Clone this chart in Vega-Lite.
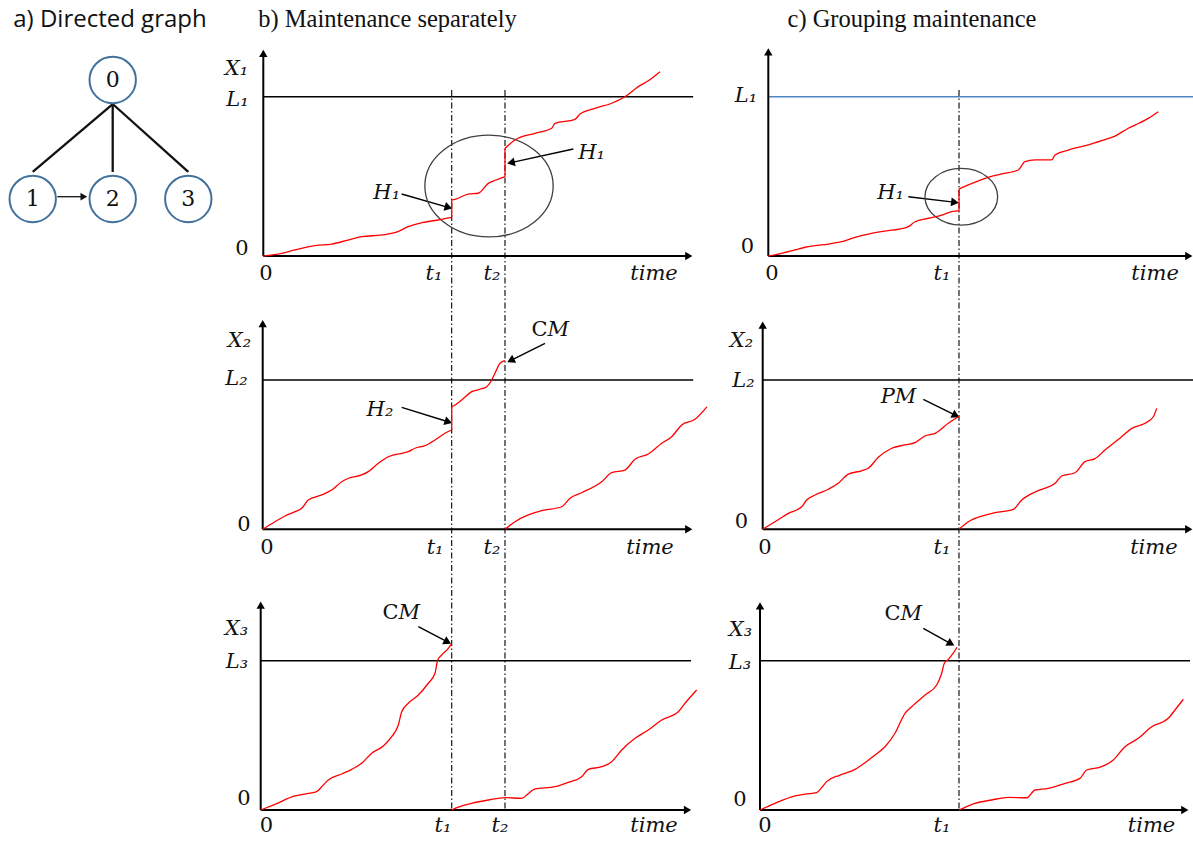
{
"$schema": "https://vega.github.io/schema/vega-lite/v6.json",
"padding": 0,
"background": "white",
"config": {"view": {"stroke": null}},
"spacing": 0,
"bounds": "flush",
"align": "each",
"columns": 3,
"concat": [
{
 "width": 215, "height": 290,
 "encoding": {
  "x": {"field": "x", "type": "quantitative", "axis": null, "scale": {"domain": [-1.409, 1.279], "nice": false, "zero": false}},
  "y": {"field": "y", "type": "quantitative", "axis": null, "scale": {"domain": [-0.765, 1.672], "nice": false, "zero": false}}
 },
 "layer": [
  {"data": {"values": [{"x": 0, "y": 0.798, "x2": -1, "y2": 0.227}, {"x": 0, "y": 0.798, "x2": 0, "y2": 0.227}, {"x": 0, "y": 0.798, "x2": 0.945, "y2": 0.227}]},
   "mark": {"type": "rule", "color": "#111", "strokeWidth": 2.3},
   "encoding": {"x2": {"field": "x2"}, "y2": {"field": "y2"}}},
  {"data": {"values": [{"x": -0.6925, "y": 0.019, "x2": -0.361, "y2": 0.019}]},
   "mark": {"type": "rule", "color": "#111", "strokeWidth": 1.3},
   "encoding": {"x2": {"field": "x2"}, "y2": {"field": "y2"}}},
  {"data": {"values": [{"x": -0.361, "y": 0.019}]},
   "mark": {"type": "point", "shape": "triangle-right", "size": 60, "filled": true, "color": "#111", "opacity": 1}},
  {"data": {"values": [{"x": 0, "y": 1, "n": "0"}, {"x": -1, "y": 0, "n": "1"}, {"x": 0, "y": 0, "n": "2"}, {"x": 0.945, "y": 0, "n": "3"}]},
   "layer": [
    {"mark": {"type": "point", "shape": "circle", "size": 2150, "filled": true, "fill": "#ffffff", "stroke": "#41719c", "strokeWidth": 2, "opacity": 1}},
    {"mark": {"type": "text", "font": "DejaVu Serif", "fontSize": 22, "align": "center", "baseline": "middle", "color": "#111"}, "encoding": {"text": {"field": "n", "type": "nominal"}}}
   ]},
  {"data": {"values": [{"x": -0.034, "y": 1.448, "s": "a) Directed graph"}]},
   "mark": {"type": "text", "font": "Open Sans", "fontSize": 24, "align": "center", "baseline": "alphabetic", "color": "#111"},
   "encoding": {"text": {"field": "s", "type": "nominal"}}}
 ]
},
 {
  "width": 500, "height": 290,
  "encoding": {
   "x": {"field": "t", "type": "quantitative", "axis": null, "scale": {"domain": [-1.1259, 10.5291], "nice": false, "zero": false}},
   "y": {"field": "v", "type": "quantitative", "axis": null, "scale": {"domain": [-0.2134, 1.607], "nice": false, "zero": false}}
  },
  "layer": [
   {"data": {"values": [{"t": 4.392, "v": 1.042, "t2": 4.392, "v2": -0.2134}, {"t": 5.634, "v": 1.042, "t2": 5.634, "v2": -0.2134}]},
    "mark": {"type": "rule", "color": "#000", "strokeWidth": 1.1, "strokeDash": [6, 2.5, 1.5, 2.5]},
    "encoding": {"x2": {"field": "t2"}, "y2": {"field": "v2"}}},
   {"data": {"values": [{"t": 0, "v": 1, "t2": 10.02, "v2": 1}, {"t": 3.226, "v": 0.389, "t2": 4.287, "v2": 0.307}, {"t": 7.226, "v": 0.672, "t2": 5.802, "v2": 0.588}]},
    "mark": {"type": "rule", "color": "#000", "strokeWidth": 1.4},
    "encoding": {"x2": {"field": "t2"}, "y2": {"field": "v2"}}},
   {"data": {"values": [{"t": 0, "v": 0, "t2": 0, "v2": 1.272}, {"t": 0, "v": 0, "t2": 9.918, "v2": 0}]},
    "mark": {"type": "rule", "color": "#000", "strokeWidth": 2},
    "encoding": {"x2": {"field": "t2"}, "y2": {"field": "v2"}}},
   {"data": {"values": [{"t": 0, "v": 1.272}]}, "mark": {"type": "point", "shape": "triangle-up", "size": 70, "filled": true, "color": "#000", "opacity": 1}},
   {"data": {"values": [{"t": 9.918, "v": 0}]}, "mark": {"type": "point", "shape": "triangle-right", "size": 70, "filled": true, "color": "#000", "opacity": 1}},
   {"data": {"values": [{"t": 4.287, "v": 0.307}]}, "mark": {"type": "point", "shape": "triangle", "angle": 106.2, "size": 80, "filled": true, "color": "#000", "opacity": 1}},
   {"data": {"values": [{"t": 5.802, "v": 0.588}]}, "mark": {"type": "point", "shape": "triangle", "angle": 257.6, "size": 80, "filled": true, "color": "#000", "opacity": 1}},
   {"data": {"values": [{"t": 5.261, "v": 0.439}]}, "mark": {"type": "point", "shape": "M-1 0C-1 -0.438 -0.552 -0.793 0 -0.793C0.552 -0.793 1 -0.438 1 0C1 0.438 0.552 0.793 0 0.793C-0.552 0.793 -1 0.438 -1 0Z", "size": 16461, "filled": false, "color": "#404040", "strokeWidth": 1.3, "opacity": 1}},
   {"data": {"values": [
     {"s": "a", "t": 0, "v": 0}, {"s": "a", "t": 0.429, "v": 0.017}, {"s": "a", "t": 0.739, "v": 0.038}, {"s": "a", "t": 1.205, "v": 0.065}, {"s": "a", "t": 1.594, "v": 0.075}, {"s": "a", "t": 1.974, "v": 0.1}, {"s": "a", "t": 2.294, "v": 0.121}, {"s": "a", "t": 2.76, "v": 0.132}, {"s": "a", "t": 3.14, "v": 0.153}, {"s": "a", "t": 3.373, "v": 0.184}, {"s": "a", "t": 3.692, "v": 0.209}, {"s": "a", "t": 4.072, "v": 0.226}, {"s": "a", "t": 4.392, "v": 0.243},
     {"s": "j1", "t": 4.392, "v": 0.243}, {"s": "j1", "t": 4.392, "v": 0.352},
     {"s": "b", "t": 4.392, "v": 0.352}, {"s": "b", "t": 4.469, "v": 0.356}, {"s": "b", "t": 4.779, "v": 0.389}, {"s": "b", "t": 5.012, "v": 0.394}, {"s": "b", "t": 5.245, "v": 0.456}, {"s": "b", "t": 5.424, "v": 0.477}, {"s": "b", "t": 5.634, "v": 0.498},
     {"s": "j2", "t": 5.634, "v": 0.498}, {"s": "j2", "t": 5.634, "v": 0.676},
     {"s": "c", "t": 5.634, "v": 0.676}, {"s": "c", "t": 5.867, "v": 0.728}, {"s": "c", "t": 6.333, "v": 0.77}, {"s": "c", "t": 6.723, "v": 0.802}, {"s": "c", "t": 6.8, "v": 0.833}, {"s": "c", "t": 7.266, "v": 0.858}, {"s": "c", "t": 7.382, "v": 0.891}, {"s": "c", "t": 7.732, "v": 0.927}, {"s": "c", "t": 8.121, "v": 0.959}, {"s": "c", "t": 8.431, "v": 1.0}, {"s": "c", "t": 8.741, "v": 1.063}, {"s": "c", "t": 8.974, "v": 1.1}, {"s": "c", "t": 9.247, "v": 1.157}
    ]},
    "mark": {"type": "line", "color": "#ff0000", "strokeWidth": 1.3, "interpolate": "monotone"},
    "encoding": {"detail": {"field": "s", "type": "nominal"}}},
   {"data": {"values": [{"t": -0.625, "v": 1.174, "s": "X₁"}, {"t": -0.601, "v": 0.979, "s": "L₁"}, {"t": 2.876, "v": 0.394, "s": "H₁"}, {"t": 7.65, "v": 0.647, "s": "H₁"}, {"t": 3.979, "v": -0.113, "s": "t₁"}, {"t": 5.331, "v": -0.113, "s": "t₂"}, {"t": 9.107, "v": -0.113, "s": "time"}]},
    "mark": {"type": "text", "font": "DejaVu Serif", "fontStyle": "italic", "fontSize": 21, "align": "center", "baseline": "middle", "color": "#111"},
    "encoding": {"text": {"field": "s", "type": "nominal"}}},
   {"data": {"values": [{"t": -0.497, "v": 0.041, "s": "0"}, {"t": 0.063, "v": -0.113, "s": "0"}]},
    "mark": {"type": "text", "font": "DejaVu Serif", "fontSize": 21, "align": "center", "baseline": "middle", "color": "#111"},
    "encoding": {"text": {"field": "s", "type": "nominal"}}},
   {"data": {"values": [{"t": 2.895, "v": 1.4375, "s": "b) Maintenance  separately"}]},
    "mark": {"type": "text", "font": "Liberation Serif", "fontSize": 24.5, "align": "center", "baseline": "alphabetic", "color": "#111"},
    "encoding": {"text": {"field": "s", "type": "nominal"}}}
  ]
 },
 {
  "width": 478, "height": 290,
  "encoding": {
   "x": {"field": "t", "type": "quantitative", "axis": null, "scale": {"domain": [-1.2571, 10.0165], "nice": false, "zero": false}},
   "y": {"field": "v", "type": "quantitative", "axis": null, "scale": {"domain": [-0.2134, 1.607], "nice": false, "zero": false}}
  },
  "layer": [
   {"data": {"values": [{"t": 4.498, "v": 1.042, "t2": 4.498, "v2": -0.2134}]},
    "mark": {"type": "rule", "color": "#000", "strokeWidth": 1.1, "strokeDash": [6, 2.5, 1.5, 2.5]},
    "encoding": {"x2": {"field": "t2"}, "y2": {"field": "v2"}}},
   {"data": {"values": [{"t": 0, "v": 1, "t2": 10.0165, "v2": 1}]},
    "mark": {"type": "rule", "color": "#4f86c6", "strokeWidth": 1.4},
    "encoding": {"x2": {"field": "t2"}, "y2": {"field": "v2"}}},
   {"data": {"values": [{"t": 3.302, "v": 0.372, "t2": 4.373, "v2": 0.338}]},
    "mark": {"type": "rule", "color": "#000", "strokeWidth": 1.4},
    "encoding": {"x2": {"field": "t2"}, "y2": {"field": "v2"}}},
   {"data": {"values": [{"t": 0, "v": 0, "t2": 0, "v2": 1.282}, {"t": 0, "v": 0, "t2": 9.918, "v2": 0}]},
    "mark": {"type": "rule", "color": "#000", "strokeWidth": 2},
    "encoding": {"x2": {"field": "t2"}, "y2": {"field": "v2"}}},
   {"data": {"values": [{"t": 0, "v": 1.282}]}, "mark": {"type": "point", "shape": "triangle-up", "size": 70, "filled": true, "color": "#000", "opacity": 1}},
   {"data": {"values": [{"t": 9.918, "v": 0}]}, "mark": {"type": "point", "shape": "triangle-right", "size": 70, "filled": true, "color": "#000", "opacity": 1}},
   {"data": {"values": [{"t": 4.373, "v": 0.338}]}, "mark": {"type": "point", "shape": "triangle", "angle": 97, "size": 80, "filled": true, "color": "#000", "opacity": 1}},
   {"data": {"values": [{"t": 4.552, "v": 0.372}]}, "mark": {"type": "point", "shape": "M-1 0C-1 -0.431 -0.552 -0.78 0 -0.78C0.552 -0.78 1 -0.431 1 0C1 0.431 0.552 0.78 0 0.78C-0.552 0.78 -1 0.431 -1 0Z", "size": 5285, "filled": false, "color": "#404040", "strokeWidth": 1.3, "opacity": 1}},
   {"data": {"values": [
     {"s": "a", "t": 0, "v": 0}, {"s": "a", "t": 0.316, "v": 0.017}, {"s": "a", "t": 0.63, "v": 0.038}, {"s": "a", "t": 0.866, "v": 0.055}, {"s": "a", "t": 1.101, "v": 0.065}, {"s": "a", "t": 1.415, "v": 0.075}, {"s": "a", "t": 1.731, "v": 0.09}, {"s": "a", "t": 2.045, "v": 0.117}, {"s": "a", "t": 2.358, "v": 0.138}, {"s": "a", "t": 2.83, "v": 0.159}, {"s": "a", "t": 3.066, "v": 0.168}, {"s": "a", "t": 3.302, "v": 0.184}, {"s": "a", "t": 3.46, "v": 0.215}, {"s": "a", "t": 3.774, "v": 0.237}, {"s": "a", "t": 4.09, "v": 0.257}, {"s": "a", "t": 4.325, "v": 0.278}, {"s": "a", "t": 4.498, "v": 0.283},
     {"s": "j1", "t": 4.498, "v": 0.283}, {"s": "j1", "t": 4.498, "v": 0.42},
     {"s": "b", "t": 4.498, "v": 0.42}, {"s": "b", "t": 4.717, "v": 0.446}, {"s": "b", "t": 5.189, "v": 0.494}, {"s": "b", "t": 5.505, "v": 0.515}, {"s": "b", "t": 5.896, "v": 0.54}, {"s": "b", "t": 6.054, "v": 0.592}, {"s": "b", "t": 6.29, "v": 0.603}, {"s": "b", "t": 6.684, "v": 0.603}, {"s": "b", "t": 6.762, "v": 0.634}, {"s": "b", "t": 7.075, "v": 0.665}, {"s": "b", "t": 7.547, "v": 0.697}, {"s": "b", "t": 7.863, "v": 0.724}, {"s": "b", "t": 8.177, "v": 0.753}, {"s": "b", "t": 8.491, "v": 0.802}, {"s": "b", "t": 8.649, "v": 0.822}, {"s": "b", "t": 8.962, "v": 0.864}, {"s": "b", "t": 9.198, "v": 0.906}
    ]},
    "mark": {"type": "line", "color": "#ff0000", "strokeWidth": 1.3, "interpolate": "monotone"},
    "encoding": {"detail": {"field": "s", "type": "nominal"}}},
   {"data": {"values": [{"t": -0.526, "v": 1.004, "s": "L₁"}, {"t": 2.882, "v": 0.395, "s": "H₁"}, {"t": 4.097, "v": -0.113, "s": "t₁"}, {"t": 9.123, "v": -0.113, "s": "time"}]},
    "mark": {"type": "text", "font": "DejaVu Serif", "fontStyle": "italic", "fontSize": 21, "align": "center", "baseline": "middle", "color": "#111"},
    "encoding": {"text": {"field": "s", "type": "nominal"}}},
   {"data": {"values": [{"t": -0.491, "v": 0.056, "s": "0"}, {"t": 0.087, "v": -0.113, "s": "0"}]},
    "mark": {"type": "text", "font": "DejaVu Serif", "fontSize": 21, "align": "center", "baseline": "middle", "color": "#111"},
    "encoding": {"text": {"field": "s", "type": "nominal"}}},
   {"data": {"values": [{"t": 3.389, "v": 1.4375, "s": "c) Grouping maintenance"}]},
    "mark": {"type": "text", "font": "Liberation Serif", "fontSize": 24.5, "align": "center", "baseline": "alphabetic", "color": "#111"},
    "encoding": {"text": {"field": "s", "type": "nominal"}}}
  ]
 },
{
 "width": 215, "height": 275,
 "data": {"values": [{"x": 0}]},
 "mark": {"type": "point", "opacity": 0},
 "encoding": {}
},
 {
  "width": 500, "height": 275,
  "encoding": {
   "x": {"field": "t", "type": "quantitative", "axis": null, "scale": {"domain": [-1.1103, 10.5284], "nice": false, "zero": false}},
   "y": {"field": "v", "type": "quantitative", "axis": null, "scale": {"domain": [-0.2391, 1.6028], "nice": false, "zero": false}}
  },
  "layer": [
   {"data": {"values": [{"t": 4.399, "v": 1.6028, "t2": 4.399, "v2": -0.2391}, {"t": 5.64, "v": 1.6028, "t2": 5.64, "v2": -0.2391}]},
    "mark": {"type": "rule", "color": "#000", "strokeWidth": 1.1, "strokeDash": [6, 2.5, 1.5, 2.5]},
    "encoding": {"x2": {"field": "t2"}, "y2": {"field": "v2"}}},
   {"data": {"values": [{"t": 0, "v": 1, "t2": 10.02, "v2": 1}, {"t": 3.236, "v": 0.817, "t2": 4.295, "v2": 0.722}, {"t": 6.571, "v": 1.246, "t2": 5.801, "v2": 1.135}]},
    "mark": {"type": "rule", "color": "#000", "strokeWidth": 1.4},
    "encoding": {"x2": {"field": "t2"}, "y2": {"field": "v2"}}},
   {"data": {"values": [{"t": 0, "v": 0, "t2": 0, "v2": 1.378}, {"t": 0, "v": 0, "t2": 9.918, "v2": 0}]},
    "mark": {"type": "rule", "color": "#000", "strokeWidth": 2},
    "encoding": {"x2": {"field": "t2"}, "y2": {"field": "v2"}}},
   {"data": {"values": [{"t": 0, "v": 1.378}]}, "mark": {"type": "point", "shape": "triangle-up", "size": 70, "filled": true, "color": "#000", "opacity": 1}},
   {"data": {"values": [{"t": 9.918, "v": 0}]}, "mark": {"type": "point", "shape": "triangle-right", "size": 70, "filled": true, "color": "#000", "opacity": 1}},
   {"data": {"values": [{"t": 4.295, "v": 0.722}]}, "mark": {"type": "point", "shape": "triangle", "angle": 107.3, "size": 80, "filled": true, "color": "#000", "opacity": 1}},
   {"data": {"values": [{"t": 5.801, "v": 1.135}]}, "mark": {"type": "point", "shape": "triangle", "angle": 243.4, "size": 80, "filled": true, "color": "#000", "opacity": 1}},
   {"data": {"values": [
     {"s": "a", "t": 0, "v": 0}, {"s": "a", "t": 0.286, "v": 0.051}, {"s": "a", "t": 0.519, "v": 0.089}, {"s": "a", "t": 0.752, "v": 0.118}, {"s": "a", "t": 0.908, "v": 0.141}, {"s": "a", "t": 1.061, "v": 0.196}, {"s": "a", "t": 1.373, "v": 0.23}, {"s": "a", "t": 1.606, "v": 0.263}, {"s": "a", "t": 1.839, "v": 0.319}, {"s": "a", "t": 1.993, "v": 0.342}, {"s": "a", "t": 2.304, "v": 0.364}, {"s": "a", "t": 2.458, "v": 0.386}, {"s": "a", "t": 2.691, "v": 0.442}, {"s": "a", "t": 2.924, "v": 0.486}, {"s": "a", "t": 3.236, "v": 0.509}, {"s": "a", "t": 3.389, "v": 0.52}, {"s": "a", "t": 3.545, "v": 0.543}, {"s": "a", "t": 3.778, "v": 0.56}, {"s": "a", "t": 4.011, "v": 0.598}, {"s": "a", "t": 4.243, "v": 0.643}, {"s": "a", "t": 4.399, "v": 0.665},
     {"s": "j1", "t": 4.399, "v": 0.665}, {"s": "j1", "t": 4.399, "v": 0.821},
     {"s": "b", "t": 4.399, "v": 0.821}, {"s": "b", "t": 4.437, "v": 0.826}, {"s": "b", "t": 4.632, "v": 0.866}, {"s": "b", "t": 4.865, "v": 0.922}, {"s": "b", "t": 5.058, "v": 0.938}, {"s": "b", "t": 5.214, "v": 0.955}, {"s": "b", "t": 5.331, "v": 1.0}, {"s": "b", "t": 5.407, "v": 1.045}, {"s": "b", "t": 5.524, "v": 1.112}, {"s": "b", "t": 5.64, "v": 1.129},
     {"s": "c", "t": 5.64, "v": 0}, {"s": "c", "t": 5.873, "v": 0.051}, {"s": "c", "t": 6.183, "v": 0.096}, {"s": "c", "t": 6.494, "v": 0.125}, {"s": "c", "t": 6.96, "v": 0.151}, {"s": "c", "t": 7.153, "v": 0.208}, {"s": "c", "t": 7.426, "v": 0.245}, {"s": "c", "t": 7.891, "v": 0.319}, {"s": "c", "t": 8.124, "v": 0.379}, {"s": "c", "t": 8.433, "v": 0.397}, {"s": "c", "t": 8.666, "v": 0.469}, {"s": "c", "t": 8.976, "v": 0.504}, {"s": "c", "t": 9.288, "v": 0.576}, {"s": "c", "t": 9.52, "v": 0.62}, {"s": "c", "t": 9.753, "v": 0.699}, {"s": "c", "t": 10.063, "v": 0.737}, {"s": "c", "t": 10.34, "v": 0.82}
    ]},
    "mark": {"type": "line", "color": "#ff0000", "strokeWidth": 1.3, "interpolate": "monotone"},
    "encoding": {"detail": {"field": "s", "type": "nominal"}}},
   {"data": {"values": [{"t": -0.54, "v": 1.258, "s": "X₂"}, {"t": -0.61, "v": 1.007, "s": "L₂"}, {"t": 2.73, "v": 0.802, "s": "H₂"}, {"t": 4.013, "v": -0.125, "s": "t₁"}, {"t": 5.338, "v": -0.125, "s": "t₂"}, {"t": 9.016, "v": -0.125, "s": "time"}]},
    "mark": {"type": "text", "font": "DejaVu Serif", "fontStyle": "italic", "fontSize": 21, "align": "center", "baseline": "middle", "color": "#111"},
    "encoding": {"text": {"field": "s", "type": "nominal"}}},
   {"data": {"values": [{"t": -0.435, "v": 0.032, "s": "0"}, {"t": 0.1, "v": -0.125, "s": "0"}]},
    "mark": {"type": "text", "font": "DejaVu Serif", "fontSize": 21, "align": "center", "baseline": "middle", "color": "#111"},
    "encoding": {"text": {"field": "s", "type": "nominal"}}},
   {"data": {"values": [{"t": 6.629, "v": 1.332}]},
    "mark": {"type": "text", "font": "DejaVu Serif", "fontSize": 21, "align": "right", "baseline": "middle", "color": "#111", "text": "C"}},
   {"data": {"values": [{"t": 6.629, "v": 1.332}]},
    "mark": {"type": "text", "font": "DejaVu Serif", "fontStyle": "italic", "fontSize": 21, "align": "left", "baseline": "middle", "color": "#111", "text": "M"}}
  ]
 },
 {
  "width": 478, "height": 275,
  "encoding": {
   "x": {"field": "t", "type": "quantitative", "axis": null, "scale": {"domain": [-1.1103, 10.0163], "nice": false, "zero": false}},
   "y": {"field": "v", "type": "quantitative", "axis": null, "scale": {"domain": [-0.2391, 1.6028], "nice": false, "zero": false}}
  },
  "layer": [
   {"data": {"values": [{"t": 4.569, "v": 1.6028, "t2": 4.569, "v2": -0.2391}]},
    "mark": {"type": "rule", "color": "#000", "strokeWidth": 1.1, "strokeDash": [6, 2.5, 1.5, 2.5]},
    "encoding": {"x2": {"field": "t2"}, "y2": {"field": "v2"}}},
   {"data": {"values": [{"t": 0, "v": 1, "t2": 10.0163, "v2": 1}, {"t": 3.738, "v": 0.871, "t2": 4.469, "v2": 0.766}]},
    "mark": {"type": "rule", "color": "#000", "strokeWidth": 1.4},
    "encoding": {"x2": {"field": "t2"}, "y2": {"field": "v2"}}},
   {"data": {"values": [{"t": 0, "v": 0, "t2": 0, "v2": 1.367}, {"t": 0, "v": 0, "t2": 9.918, "v2": 0}]},
    "mark": {"type": "rule", "color": "#000", "strokeWidth": 2},
    "encoding": {"x2": {"field": "t2"}, "y2": {"field": "v2"}}},
   {"data": {"values": [{"t": 0, "v": 1.367}]}, "mark": {"type": "point", "shape": "triangle-up", "size": 70, "filled": true, "color": "#000", "opacity": 1}},
   {"data": {"values": [{"t": 9.918, "v": 0}]}, "mark": {"type": "point", "shape": "triangle-right", "size": 70, "filled": true, "color": "#000", "opacity": 1}},
   {"data": {"values": [{"t": 4.469, "v": 0.766}]}, "mark": {"type": "point", "shape": "triangle", "angle": 116.4, "size": 80, "filled": true, "color": "#000", "opacity": 1}},
   {"data": {"values": [
     {"s": "a", "t": 0, "v": 0}, {"s": "a", "t": 0.286, "v": 0.051}, {"s": "a", "t": 0.596, "v": 0.107}, {"s": "a", "t": 0.908, "v": 0.151}, {"s": "a", "t": 1.024, "v": 0.196}, {"s": "a", "t": 1.217, "v": 0.23}, {"s": "a", "t": 1.527, "v": 0.268}, {"s": "a", "t": 1.76, "v": 0.308}, {"s": "a", "t": 1.993, "v": 0.37}, {"s": "a", "t": 2.304, "v": 0.392}, {"s": "a", "t": 2.458, "v": 0.409}, {"s": "a", "t": 2.691, "v": 0.482}, {"s": "a", "t": 3.003, "v": 0.543}, {"s": "a", "t": 3.312, "v": 0.565}, {"s": "a", "t": 3.545, "v": 0.58}, {"s": "a", "t": 3.778, "v": 0.625}, {"s": "a", "t": 4.011, "v": 0.643}, {"s": "a", "t": 4.32, "v": 0.71}, {"s": "a", "t": 4.569, "v": 0.757},
     {"s": "b", "t": 4.569, "v": 0}, {"s": "b", "t": 4.786, "v": 0.051}, {"s": "b", "t": 5.098, "v": 0.089}, {"s": "b", "t": 5.407, "v": 0.111}, {"s": "b", "t": 5.833, "v": 0.134}, {"s": "b", "t": 6.029, "v": 0.196}, {"s": "b", "t": 6.415, "v": 0.259}, {"s": "b", "t": 6.804, "v": 0.308}, {"s": "b", "t": 6.96, "v": 0.357}, {"s": "b", "t": 7.27, "v": 0.379}, {"s": "b", "t": 7.502, "v": 0.453}, {"s": "b", "t": 7.735, "v": 0.473}, {"s": "b", "t": 7.968, "v": 0.531}, {"s": "b", "t": 8.357, "v": 0.62}, {"s": "b", "t": 8.59, "v": 0.676}, {"s": "b", "t": 8.899, "v": 0.71}, {"s": "b", "t": 9.092, "v": 0.754}, {"s": "b", "t": 9.171, "v": 0.81}
    ]},
    "mark": {"type": "line", "color": "#ff0000", "strokeWidth": 1.3, "interpolate": "monotone"},
    "encoding": {"detail": {"field": "s", "type": "nominal"}}},
   {"data": {"values": [{"t": -0.493, "v": 1.261, "s": "X₂"}, {"t": -0.447, "v": 0.993, "s": "L₂"}, {"t": 3.161, "v": 0.889, "s": "PM"}, {"t": 4.174, "v": -0.125, "s": "t₁"}, {"t": 9.106, "v": -0.125, "s": "time"}]},
    "mark": {"type": "text", "font": "DejaVu Serif", "fontStyle": "italic", "fontSize": 21, "align": "center", "baseline": "middle", "color": "#111"},
    "encoding": {"text": {"field": "s", "type": "nominal"}}},
   {"data": {"values": [{"t": -0.493, "v": 0.052, "s": "0"}, {"t": 0.054, "v": -0.125, "s": "0"}]},
    "mark": {"type": "text", "font": "DejaVu Serif", "fontSize": 21, "align": "center", "baseline": "middle", "color": "#111"},
    "encoding": {"text": {"field": "s", "type": "nominal"}}}
  ]
 },
{
 "width": 215, "height": 277,
 "data": {"values": [{"x": 0}]},
 "mark": {"type": "point", "opacity": 0},
 "encoding": {}
},
 {
  "width": 500, "height": 277,
  "encoding": {
   "x": {"field": "t", "type": "quantitative", "axis": null, "scale": {"domain": [-1.0621, 10.5577], "nice": false, "zero": false}},
   "y": {"field": "v", "type": "quantitative", "axis": null, "scale": {"domain": [-0.2143, 1.641], "nice": false, "zero": false}}
  },
  "layer": [
   {"data": {"values": [{"t": 4.439, "v": 1.641, "t2": 4.439, "v2": 0}, {"t": 5.677, "v": 1.641, "t2": 5.677, "v2": 0}]},
    "mark": {"type": "rule", "color": "#000", "strokeWidth": 1.1, "strokeDash": [6, 2.5, 1.5, 2.5]},
    "encoding": {"x2": {"field": "t2"}, "y2": {"field": "v2"}}},
   {"data": {"values": [{"t": 0, "v": 1, "t2": 10.0, "v2": 1}, {"t": 3.663, "v": 1.228, "t2": 4.318, "v2": 1.129}]},
    "mark": {"type": "rule", "color": "#000", "strokeWidth": 1.4},
    "encoding": {"x2": {"field": "t2"}, "y2": {"field": "v2"}}},
   {"data": {"values": [{"t": 0, "v": 0, "t2": 0, "v2": 1.372}, {"t": 0, "v": 0, "t2": 9.919, "v2": 0}]},
    "mark": {"type": "rule", "color": "#000", "strokeWidth": 2},
    "encoding": {"x2": {"field": "t2"}, "y2": {"field": "v2"}}},
   {"data": {"values": [{"t": 0, "v": 1.372}]}, "mark": {"type": "point", "shape": "triangle-up", "size": 70, "filled": true, "color": "#000", "opacity": 1}},
   {"data": {"values": [{"t": 9.919, "v": 0}]}, "mark": {"type": "point", "shape": "triangle-right", "size": 70, "filled": true, "color": "#000", "opacity": 1}},
   {"data": {"values": [{"t": 4.318, "v": 1.129}]}, "mark": {"type": "point", "shape": "triangle", "angle": 117.6, "size": 80, "filled": true, "color": "#000", "opacity": 1}},
   {"data": {"values": [
     {"s": "a", "t": 0, "v": 0}, {"s": "a", "t": 0.332, "v": 0.038}, {"s": "a", "t": 0.797, "v": 0.094}, {"s": "a", "t": 1.03, "v": 0.107}, {"s": "a", "t": 1.301, "v": 0.123}, {"s": "a", "t": 1.418, "v": 0.156}, {"s": "a", "t": 1.571, "v": 0.201}, {"s": "a", "t": 1.882, "v": 0.241}, {"s": "a", "t": 2.115, "v": 0.272}, {"s": "a", "t": 2.347, "v": 0.313}, {"s": "a", "t": 2.58, "v": 0.38}, {"s": "a", "t": 2.849, "v": 0.429}, {"s": "a", "t": 3.044, "v": 0.491}, {"s": "a", "t": 3.198, "v": 0.569}, {"s": "a", "t": 3.277, "v": 0.658}, {"s": "a", "t": 3.43, "v": 0.715}, {"s": "a", "t": 3.663, "v": 0.77}, {"s": "a", "t": 3.895, "v": 0.849}, {"s": "a", "t": 4.051, "v": 0.916}, {"s": "a", "t": 4.113, "v": 1.005}, {"s": "a", "t": 4.206, "v": 1.038}, {"s": "a", "t": 4.36, "v": 1.083}, {"s": "a", "t": 4.439, "v": 1.115},
     {"s": "b", "t": 4.439, "v": 0}, {"s": "b", "t": 4.515, "v": 0.011}, {"s": "b", "t": 4.904, "v": 0.045}, {"s": "b", "t": 5.29, "v": 0.067}, {"s": "b", "t": 5.677, "v": 0.083}, {"s": "b", "t": 6.066, "v": 0.078}, {"s": "b", "t": 6.182, "v": 0.1}, {"s": "b", "t": 6.375, "v": 0.141}, {"s": "b", "t": 6.839, "v": 0.156}, {"s": "b", "t": 7.149, "v": 0.185}, {"s": "b", "t": 7.46, "v": 0.223}, {"s": "b", "t": 7.613, "v": 0.272}, {"s": "b", "t": 7.925, "v": 0.29}, {"s": "b", "t": 8.157, "v": 0.324}, {"s": "b", "t": 8.39, "v": 0.402}, {"s": "b", "t": 8.699, "v": 0.48}, {"s": "b", "t": 9.008, "v": 0.536}, {"s": "b", "t": 9.319, "v": 0.603}, {"s": "b", "t": 9.705, "v": 0.658}, {"s": "b", "t": 9.861, "v": 0.715}, {"s": "b", "t": 10.133, "v": 0.804}
    ]},
    "mark": {"type": "line", "color": "#ff0000", "strokeWidth": 1.3, "interpolate": "monotone"},
    "encoding": {"detail": {"field": "s", "type": "nominal"}}},
   {"data": {"values": [{"t": -0.562, "v": 1.212, "s": "X₃"}, {"t": -0.551, "v": 0.988, "s": "L₃"}, {"t": 4.237, "v": -0.11, "s": "t₁"}, {"t": 5.561, "v": -0.11, "s": "t₂"}, {"t": 9.14, "v": -0.11, "s": "time"}]},
    "mark": {"type": "text", "font": "DejaVu Serif", "fontStyle": "italic", "fontSize": 21, "align": "center", "baseline": "middle", "color": "#111"},
    "encoding": {"text": {"field": "s", "type": "nominal"}}},
   {"data": {"values": [{"t": -0.388, "v": 0.077, "s": "0"}, {"t": 0.135, "v": -0.11, "s": "0"}]},
    "mark": {"type": "text", "font": "DejaVu Serif", "fontSize": 21, "align": "center", "baseline": "middle", "color": "#111"},
    "encoding": {"text": {"field": "s", "type": "nominal"}}},
   {"data": {"values": [{"t": 3.202, "v": 1.319}]},
    "mark": {"type": "text", "font": "DejaVu Serif", "fontSize": 21, "align": "right", "baseline": "middle", "color": "#111", "text": "C"}},
   {"data": {"values": [{"t": 3.202, "v": 1.319}]},
    "mark": {"type": "text", "font": "DejaVu Serif", "fontStyle": "italic", "fontSize": 21, "align": "left", "baseline": "middle", "color": "#111", "text": "M"}}
  ]
 },
 {
  "width": 478, "height": 277,
  "encoding": {
   "x": {"field": "t", "type": "quantitative", "axis": null, "scale": {"domain": [-1.0507, 10.1097], "nice": false, "zero": false}},
   "y": {"field": "v", "type": "quantitative", "axis": null, "scale": {"domain": [-0.2143, 1.641], "nice": false, "zero": false}}
  },
  "layer": [
   {"data": {"values": [{"t": 4.646, "v": 1.641, "t2": 4.646, "v2": 0}]},
    "mark": {"type": "rule", "color": "#000", "strokeWidth": 1.1, "strokeDash": [6, 2.5, 1.5, 2.5]},
    "encoding": {"x2": {"field": "t2"}, "y2": {"field": "v2"}}},
   {"data": {"values": [{"t": 0, "v": 1, "t2": 10.04, "v2": 1}, {"t": 3.813, "v": 1.217, "t2": 4.431, "v2": 1.118}]},
    "mark": {"type": "rule", "color": "#000", "strokeWidth": 1.4},
    "encoding": {"x2": {"field": "t2"}, "y2": {"field": "v2"}}},
   {"data": {"values": [{"t": 0, "v": 0, "t2": 0, "v2": 1.368}, {"t": 0, "v": 0, "t2": 9.918, "v2": 0}]},
    "mark": {"type": "rule", "color": "#000", "strokeWidth": 2},
    "encoding": {"x2": {"field": "t2"}, "y2": {"field": "v2"}}},
   {"data": {"values": [{"t": 0, "v": 1.368}]}, "mark": {"type": "point", "shape": "triangle-up", "size": 70, "filled": true, "color": "#000", "opacity": 1}},
   {"data": {"values": [{"t": 9.918, "v": 0}]}, "mark": {"type": "point", "shape": "triangle-right", "size": 70, "filled": true, "color": "#000", "opacity": 1}},
   {"data": {"values": [{"t": 4.431, "v": 1.118}]}, "mark": {"type": "point", "shape": "triangle", "angle": 119.1, "size": 80, "filled": true, "color": "#000", "opacity": 1}},
   {"data": {"values": [
     {"s": "a", "t": 0, "v": 0}, {"s": "a", "t": 0.35, "v": 0.045}, {"s": "a", "t": 0.817, "v": 0.094}, {"s": "a", "t": 1.051, "v": 0.107}, {"s": "a", "t": 1.323, "v": 0.116}, {"s": "a", "t": 1.424, "v": 0.145}, {"s": "a", "t": 1.556, "v": 0.19}, {"s": "a", "t": 1.868, "v": 0.234}, {"s": "a", "t": 2.218, "v": 0.272}, {"s": "a", "t": 2.452, "v": 0.317}, {"s": "a", "t": 2.685, "v": 0.368}, {"s": "a", "t": 2.918, "v": 0.424}, {"s": "a", "t": 3.152, "v": 0.514}, {"s": "a", "t": 3.385, "v": 0.648}, {"s": "a", "t": 3.541, "v": 0.692}, {"s": "a", "t": 3.853, "v": 0.77}, {"s": "a", "t": 4.125, "v": 0.837}, {"s": "a", "t": 4.242, "v": 0.916}, {"s": "a", "t": 4.304, "v": 0.983}, {"s": "a", "t": 4.397, "v": 1.009}, {"s": "a", "t": 4.513, "v": 1.05}, {"s": "a", "t": 4.6, "v": 1.09},
     {"s": "b", "t": 4.646, "v": 0}, {"s": "b", "t": 5.02, "v": 0.045}, {"s": "b", "t": 5.41, "v": 0.067}, {"s": "b", "t": 5.797, "v": 0.085}, {"s": "b", "t": 6.227, "v": 0.082}, {"s": "b", "t": 6.421, "v": 0.134}, {"s": "b", "t": 6.731, "v": 0.145}, {"s": "b", "t": 7.121, "v": 0.179}, {"s": "b", "t": 7.471, "v": 0.212}, {"s": "b", "t": 7.627, "v": 0.268}, {"s": "b", "t": 7.978, "v": 0.29}, {"s": "b", "t": 8.249, "v": 0.335}, {"s": "b", "t": 8.522, "v": 0.424}, {"s": "b", "t": 8.833, "v": 0.48}, {"s": "b", "t": 9.145, "v": 0.558}, {"s": "b", "t": 9.533, "v": 0.614}, {"s": "b", "t": 9.689, "v": 0.67}, {"s": "b", "t": 9.883, "v": 0.741}
    ]},
    "mark": {"type": "line", "color": "#ff0000", "strokeWidth": 1.3, "interpolate": "monotone"},
    "encoding": {"detail": {"field": "s", "type": "nominal"}}},
   {"data": {"values": [{"t": -0.455, "v": 1.206, "s": "X₃"}, {"t": -0.467, "v": 0.985, "s": "L₃"}, {"t": 4.249, "v": -0.11, "s": "t₁"}, {"t": 9.141, "v": -0.11, "s": "time"}]},
    "mark": {"type": "text", "font": "DejaVu Serif", "fontStyle": "italic", "fontSize": 21, "align": "center", "baseline": "middle", "color": "#111"},
    "encoding": {"text": {"field": "s", "type": "nominal"}}},
   {"data": {"values": [{"t": -0.467, "v": 0.067, "s": "0"}, {"t": 0.117, "v": -0.11, "s": "0"}]},
    "mark": {"type": "text", "font": "DejaVu Serif", "fontSize": 21, "align": "center", "baseline": "middle", "color": "#111"},
    "encoding": {"text": {"field": "s", "type": "nominal"}}},
   {"data": {"values": [{"t": 3.28, "v": 1.313}]},
    "mark": {"type": "text", "font": "DejaVu Serif", "fontSize": 21, "align": "right", "baseline": "middle", "color": "#111", "text": "C"}},
   {"data": {"values": [{"t": 3.28, "v": 1.313}]},
    "mark": {"type": "text", "font": "DejaVu Serif", "fontStyle": "italic", "fontSize": 21, "align": "left", "baseline": "middle", "color": "#111", "text": "M"}}
  ]
 }
]
}
